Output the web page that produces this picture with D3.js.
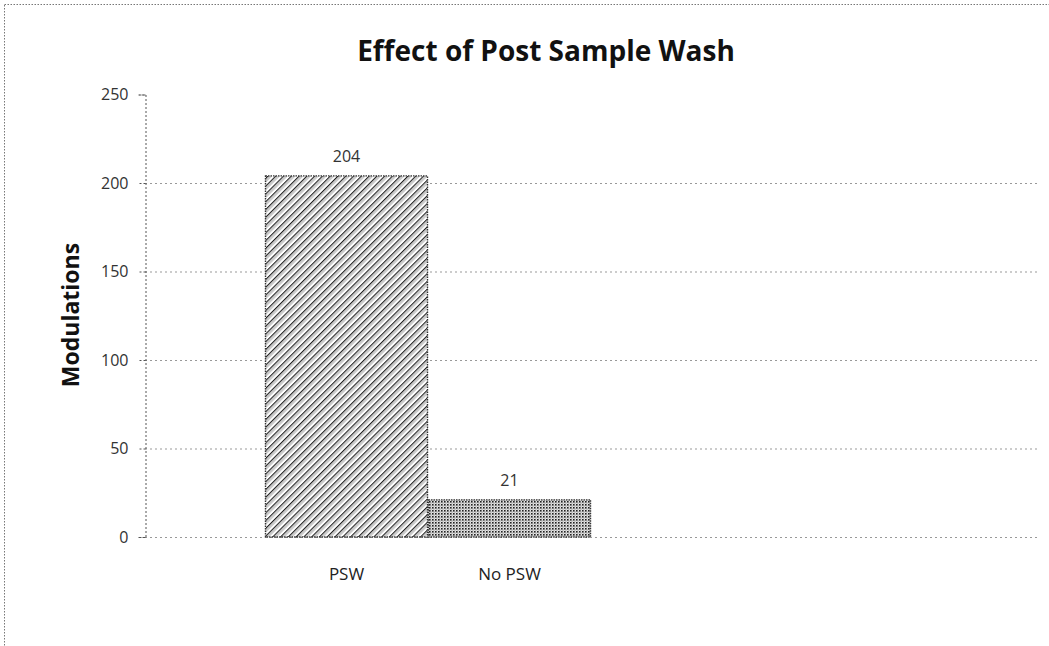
<!DOCTYPE html>
<html><head><meta charset="utf-8">
<script src="https://cdn.jsdelivr.net/npm/d3@7"></script>
<style>body{margin:0;background:#fff}svg{display:block}</style>
</head><body>
<script>
const categories = ["PSW", "No PSW"];
const values = [204, 21];
const yTicks = [0, 50, 100, 150, 200, 250];
const title = "Effect of Post Sample Wash";
const yTitle = "Modulations";

const W = 1049, H = 646;
const svg = d3.select("body").append("svg").attr("width", W).attr("height", H);
const defs = svg.append("defs");

// diagonal hatch
const p1 = defs.append("pattern").attr("id","hatch").attr("patternUnits","userSpaceOnUse")
  .attr("width",5.5).attr("height",5.5).attr("patternTransform","rotate(45)");
p1.append("rect").attr("width",5.5).attr("height",5.5).attr("fill","#fff");
p1.append("line").attr("x1",0).attr("y1",0).attr("x2",0).attr("y2",5.5).attr("stroke","#222").attr("stroke-width",2.4);
p1.append("line").attr("x1",2.75).attr("y1",0).attr("x2",2.75).attr("y2",5.5).attr("stroke","#999").attr("stroke-width",0.9);
// dot grid
const p2 = defs.append("pattern").attr("id","dots").attr("patternUnits","userSpaceOnUse")
  .attr("width",3).attr("height",3);
p2.append("rect").attr("width",3).attr("height",3).attr("fill","#e4e4e4");
p2.append("rect").attr("width",1.6).attr("height",1.6).attr("fill","#222");
p2.append("rect").attr("x",1.5).attr("y",1.5).attr("width",1).attr("height",1).attr("fill","#777");

// outer frame
svg.append("rect").attr("x",4.5).attr("y",4.5).attr("width",W+20).attr("height",H+20)
  .attr("fill","none").attr("stroke","#777").attr("stroke-dasharray","1.5,1.5");

const plotLeft = 145, plotRight = 1037, plotTop = 94.5, plotBottom = 537;
const y = d3.scaleLinear().domain([0,250]).range([plotBottom, plotTop]);
const x = d3.scaleBand().domain(categories).range([265, 591]).padding(0);

// gridlines
svg.append("g").selectAll("line").data(yTicks).join("line")
  .attr("x1", plotLeft).attr("x2", plotRight).attr("y1", d=>y(d)+0.5).attr("y2", d=>y(d)+0.5)
  .attr("stroke","#999").attr("stroke-dasharray","2,3").attr("stroke-width",1)
  .attr("display", d=> d===250 ? "none" : null);

// y axis
const yAxis = d3.axisLeft(y).tickValues(yTicks).tickSize(7).tickPadding(10);
const ga = svg.append("g").attr("transform",`translate(${plotLeft+0.5},0)`).call(yAxis);
ga.select(".domain").attr("stroke","#555").attr("stroke-dasharray","2,2");
ga.selectAll(".tick line").attr("stroke","#555").attr("stroke-dasharray","2,2");
ga.selectAll("text").attr("font-family","'Open Sans', sans-serif").attr("font-size",16).attr("fill","#333");

// bars
const fills = ["url(#hatch)","url(#dots)"];
svg.append("g").selectAll("rect").data(values).join("rect")
  .attr("x",(d,i)=>x(categories[i])+0.5).attr("y",d=>y(d))
  .attr("width",x.bandwidth()-1).attr("height",d=>plotBottom-y(d))
  .attr("fill",(d,i)=>fills[i]).attr("stroke","#333").attr("stroke-width",1.4).attr("stroke-dasharray","1.5,1");

// value labels
svg.append("g").selectAll("text").data(values).join("text")
  .attr("x",(d,i)=>x(categories[i])+x.bandwidth()/2).attr("y",d=>y(d)-14)
  .attr("text-anchor","middle").attr("font-family","'Open Sans', sans-serif").attr("font-size",16).attr("fill","#333")
  .text(d=>d);

// category labels
svg.append("g").selectAll("text").data(categories).join("text")
  .attr("x",d=>x(d)+x.bandwidth()/2).attr("y",plotBottom+43)
  .attr("text-anchor","middle").attr("font-family","'Open Sans', sans-serif").attr("font-size",17).attr("fill","#222")
  .text(d=>d);

// title
svg.append("text").attr("x",546).attr("y",61).attr("text-anchor","middle")
  .attr("font-family","'Open Sans', sans-serif").attr("font-weight","bold").attr("font-size",28).attr("fill","#111")
  .text(title);

// y title
svg.append("text").attr("transform",`translate(79,315) rotate(-90)`).attr("text-anchor","middle")
  .attr("font-family","'Open Sans', sans-serif").attr("font-weight","bold").attr("font-size",23).attr("fill","#111")
  .text(yTitle);
</script>
</body></html>
